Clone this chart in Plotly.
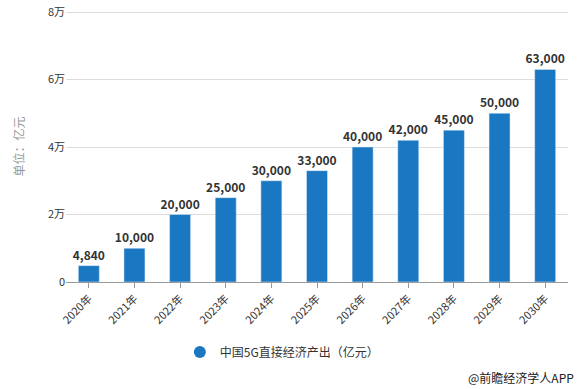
import plotly.graph_objects as go

years = ["2020年", "2021年", "2022年", "2023年", "2024年", "2025年",
         "2026年", "2027年", "2028年", "2029年", "2030年"]
values = [4840, 10000, 20000, 25000, 30000, 33000, 40000, 42000, 45000, 50000, 63000]
y_tick_vals = [0, 20000, 40000, 60000, 80000]
y_tick_text = ["0", "2万", "4万", "6万", "8万"]
series_name = "中国5G直接经济产出（亿元）"
bar_color = "#1a78c3"

fig = go.Figure()
fig.add_trace(go.Bar(
    x=years, y=values, marker_color=bar_color, width=0.46,
    text=[f"{v:,}" for v in values], textposition="outside", constraintext="none",
    textfont=dict(family="Noto Sans CJK SC", size=12, color="#333333", weight="bold"),
    cliponaxis=False, showlegend=False, hoverinfo="skip",
))
fig.add_trace(go.Scatter(
    x=[None], y=[None], mode="markers", name=series_name,
    marker=dict(symbol="circle", size=12, color=bar_color), showlegend=True,
))

fig.update_layout(
    width=581, height=389,
    margin=dict(l=66, r=13, t=11, b=107, autoexpand=False),
    paper_bgcolor="white", plot_bgcolor="white",
    font=dict(family="Noto Sans CJK SC", size=11, color="#333333"),
    showlegend=True,
    legend=dict(orientation="h", x=0.43, xanchor="center", y=-0.258, yanchor="middle",
                font=dict(size=12, color="#333333"), itemsizing="constant"),
    xaxis=dict(
        type="category", tickangle=-45, showgrid=False, automargin=False,
        showline=True, linecolor="#999999", linewidth=1,
        ticks="outside", ticklen=5, tickcolor="#999999",
        tickfont=dict(size=11, color="#333333"),
    ),
    yaxis=dict(
        range=[0, 80300], tickvals=y_tick_vals, ticktext=y_tick_text, automargin=False,
        ticklabeloverflow="allow",
        showgrid=True, gridcolor="#dddddd", gridwidth=1, zeroline=False,
        showline=False, ticks="", ticklen=0,
        tickfont=dict(size=11, color="#333333"),
        title=dict(text="单位：亿元", font=dict(size=12, color="#999999"), standoff=20),
    ),
    annotations=[dict(
        text="@前瞻经济学人APP", xref="paper", yref="paper",
        x=1.016, y=-0.354, xanchor="right", yanchor="middle", showarrow=False,
        font=dict(size=12, color="#222222"),
    )],
)

fig.write_html("out.html", config={"displayModeBar": False},
               post_script="document.body.style.margin='0';")
